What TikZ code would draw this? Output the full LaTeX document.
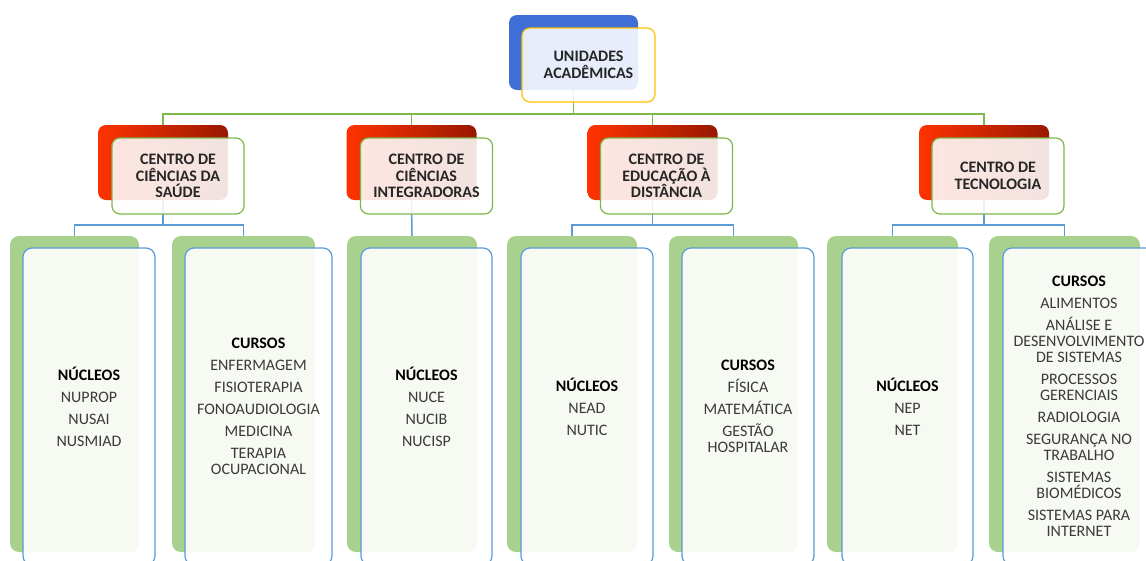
\documentclass[tikz,border=0pt]{standalone}
\usepackage{fontspec}
\setmainfont{Carlito}
\usepackage{tikz}
\usetikzlibrary{positioning, backgrounds}
\definecolor{topblue}{HTML}{3E6ED6}
\definecolor{topyellow}{HTML}{FFC000}
\definecolor{redlight}{HTML}{FF3300}
\definecolor{reddark}{HTML}{981800}
\definecolor{leafgreen}{HTML}{A9D18E}
\definecolor{linegreen}{HTML}{7DB84A}
\definecolor{lineblue}{HTML}{5B9BD5}
\definecolor{itemgrey}{HTML}{3A3A3A}
\tikzstyle{topback} = [rectangle, rounded corners=8pt, fill=topblue, minimum width=129pt, minimum height=75pt]
\tikzstyle{topfront} = [rectangle, rounded corners=8pt, draw=topyellow, line width=1.2pt, fill=white, fill opacity=0.88, text opacity=1, minimum width=133pt, minimum height=74pt, align=center, font=\fontsize{16}{16.5}\selectfont\bfseries, text=black!85]
\tikzstyle{midback} = [rectangle, rounded corners=8pt, left color=redlight, right color=reddark, minimum width=130pt, minimum height=75pt]
\tikzstyle{midfront} = [rectangle, rounded corners=8pt, draw=linegreen, line width=1.2pt, fill=white, fill opacity=0.88, text opacity=1, minimum width=132pt, minimum height=76pt, align=center, font=\fontsize{16}{16.5}\selectfont\bfseries, text=black!85]
\tikzstyle{leafback} = [rectangle, rounded corners=9pt, fill=leafgreen, minimum height=316pt]
\tikzstyle{leaffront} = [rectangle, rounded corners=9pt, draw=lineblue, line width=1.2pt, fill=white, fill opacity=0.9, text opacity=1, minimum height=317pt, align=center, font=\fontsize{16}{16}\selectfont, text=itemgrey]
\tikzstyle{gline} = [linegreen, line width=1.5pt]
\tikzstyle{bline} = [lineblue, line width=1.5pt]
\newcommand{\leafhead}[1]{{\bfseries\color{black}#1}}

\begin{document}
\begin{tikzpicture}[x=1pt, y=-1pt]
	\useasboundingbox (0,0) rectangle (1146,560);
	\clip (0,0) rectangle (1146,560);
	% top unit
	\node (UA) [topback] at (573.5,52.5) {};
	\node (UAf) [topfront] at ([shift={(15,12.5)}]UA.center) {UNIDADES\\ACADÊMICAS};
	% centres
	\node (C1) [midback] at (163,162.5) {};
	\node (C1f) [midfront] at ([shift={(15,13.5)}]C1.center) {CENTRO DE\\CIÊNCIAS DA\\SAÚDE};
	\node (C2) [midback] at (411.5,162.5) {};
	\node (C2f) [midfront] at ([shift={(15,13.5)}]C2.center) {CENTRO DE\\CIÊNCIAS\\INTEGRADORAS};
	\node (C3) [midback] at (652.5,162.5) {};
	\node (C3f) [midfront] at ([shift={(14,13.5)}]C3.center) {CENTRO DE\\EDUCAÇÃO À\\DISTÂNCIA};
	\node (C4) [midback] at (984,162.5) {};
	\node (C4f) [midfront] at ([shift={(14,13.5)}]C4.center) {CENTRO DE\\TECNOLOGIA};
	% leaves
	\node (L1) [leafback, minimum width=129pt] at (74.5,394) {};
	\node (L1f) [leaffront, minimum width=132pt] at ([shift={(14.5,12.5)}]L1.center)
		{\leafhead{NÚCLEOS}\\[6pt]NUPROP\\[6pt]NUSAI\\[6pt]NUSMIAD};
	\node (L2) [leafback, minimum width=143pt] at (243.5,394) {};
	\node (L2f) [leaffront, minimum width=147pt] at ([shift={(15,12.5)}]L2.center)
		{\leafhead{CURSOS}\\[6pt]ENFERMAGEM\\[6pt]FISIOTERAPIA\\[6pt]FONOAUDIOLOGIA\\[6pt]MEDICINA\\[6pt]TERAPIA\\OCUPACIONAL};
	\node (L3) [leafback, minimum width=130pt] at (412,394) {};
	\node (L3f) [leaffront, minimum width=131pt] at ([shift={(14.5,12.5)}]L3.center)
		{\leafhead{NÚCLEOS}\\[6pt]NUCE\\[6pt]NUCIB\\[6pt]NUCISP};
	\node (L4) [leafback, minimum width=130pt] at (572,394) {};
	\node (L4f) [leaffront, minimum width=132pt] at ([shift={(15,12.5)}]L4.center)
		{\leafhead{NÚCLEOS}\\[6pt]NEAD\\[6pt]NUTIC};
	\node (L5) [leafback, minimum width=129pt] at (733.5,394) {};
	\node (L5f) [leaffront, minimum width=132pt] at ([shift={(14.5,12.5)}]L5.center)
		{\leafhead{CURSOS}\\[6pt]FÍSICA\\[6pt]MATEMÁTICA\\[6pt]GESTÃO\\HOSPITALAR};
	\node (L6) [leafback, minimum width=131pt] at (892.5,394) {};
	\node (L6f) [leaffront, minimum width=131pt] at ([shift={(15,12.5)}]L6.center)
		{\leafhead{NÚCLEOS}\\[6pt]NEP\\[6pt]NET};
	\node (L7) [leafback, minimum width=151pt] at (1064.5,394) {};
	\node (L7f) [leaffront, minimum width=152pt] at ([shift={(14.5,12.5)}]L7.center)
		{\leafhead{CURSOS}\\[6pt]ALIMENTOS\\[6pt]ANÁLISE E\\DESENVOLVIMENTO\\DE SISTEMAS\\[6pt]PROCESSOS\\GERENCIAIS\\[6pt]RADIOLOGIA\\[6pt]SEGURANÇA NO\\TRABALHO\\[6pt]SISTEMAS\\BIOMÉDICOS\\[6pt]SISTEMAS PARA\\INTERNET};
	% connectors
	\coordinate (topbus) at (0,114);
	\coordinate (leafbus) at (0,225);
	\begin{pgfonlayer}{background}
		\draw [gline] (UA.south) -- (UA.south |- topbus);
		\draw [gline] (C1.north) |- (C4.north |- topbus) -- (C4.north);
		\draw [gline] (C2.north) -- (C2.north |- topbus);
		\draw [gline] (C3.north) -- (C3.north |- topbus);
		\draw [bline] (C1.south) -- (C1.south |- leafbus);
		\draw [bline] (L1.north) |- (L2.north |- leafbus) -- (L2.north);
		\draw [bline] (C2.south) -- (L3.north);
		\draw [bline] (C3.south) -- (C3.south |- leafbus);
		\draw [bline] (L4.north) |- (L5.north |- leafbus) -- (L5.north);
		\draw [bline] (C4.south) -- (C4.south |- leafbus);
		\draw [bline] (L6.north) |- (L7.north |- leafbus) -- (L7.north);
	\end{pgfonlayer}
\end{tikzpicture}
\end{document}
